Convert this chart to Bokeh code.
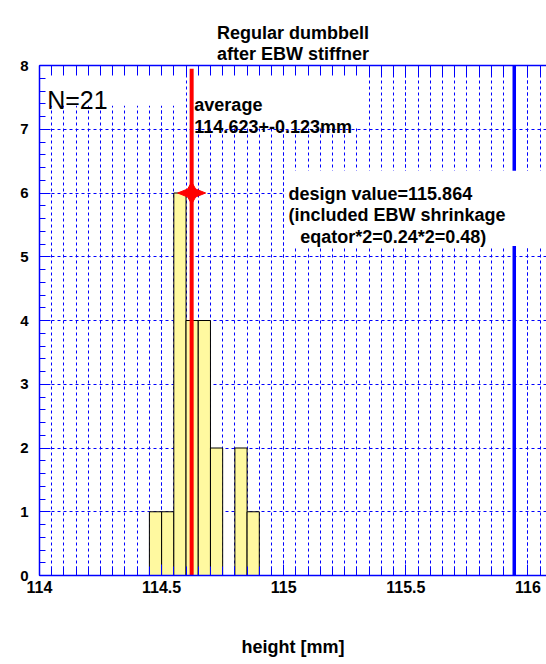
import numpy as np
from bokeh.plotting import figure
from bokeh.models import (LinearAxis, SingleIntervalTicker, FixedTicker, Range1d, Label, Grid,
                          NumeralTickFormatter)
from bokeh.embed import file_html
from bokeh.resources import INLINE

# ---------------- data ----------------
title_text = "Regular dumbbell\nafter EBW stiffner"
x_label = "height [mm]"
bin_edges = [114.45, 114.50, 114.55, 114.60, 114.65, 114.70, 114.75, 114.80, 114.85, 114.90]
counts = [1, 1, 6, 4, 4, 2, 0, 2, 1]
n_entries = 21
mean_value = 114.623
mean_error = 0.123
design_value = 115.864
design_line_x = 115.944
shrink_eq = 0.24
x_tick_interval = 0.5
x_minor_interval = 0.05
y_tick_interval = 1

# ---------------- style / layout ----------------
FONT = "Liberation Sans"
BLUE = "#0000ff"
X0, X1 = 114.0, 116.076
Y0, Y1 = 0.0, 8.0
PX_X = 244.2   # pixels per x unit
PX_Y = 63.75   # pixels per y unit

p = figure(width=546, height=664, x_range=Range1d(X0, X1), y_range=Range1d(Y0, Y1),
           output_backend="svg", toolbar_location=None,
           x_axis_type=None, y_axis_type=None,
           min_border_left=39, min_border_right=0, min_border_top=65, min_border_bottom=89)
p.outline_line_color = None
p.background_fill_color = "white"
p.border_fill_color = "white"

p.title.text = title_text
p.title.align = "center"
p.title.vertical_align = "top"
p.title.text_font = FONT
p.title.text_font_size = "18px"
p.title.text_font_style = "bold"
p.title.text_color = "black"
p.title.text_line_height = 1.06
p.title.standoff = 0

xt = SingleIntervalTicker(interval=x_tick_interval, num_minor_ticks=10)
yt = SingleIntervalTicker(interval=y_tick_interval, num_minor_ticks=5)

def style_ticks(ax, major_in, minor_in):
    ax.axis_line_color = BLUE
    ax.axis_line_width = 1.5
    ax.major_tick_line_color = BLUE
    ax.minor_tick_line_color = BLUE
    ax.major_tick_in = major_in
    ax.major_tick_out = 0
    ax.minor_tick_in = minor_in
    ax.minor_tick_out = 0

xaxis = LinearAxis(ticker=xt, formatter=NumeralTickFormatter(format="0.[0]"),
                   axis_label=x_label)
style_ticks(xaxis, 11, 9)
xaxis.major_label_standoff = 5
xaxis.major_label_text_font = FONT
xaxis.major_label_text_font_size = "16px"
xaxis.major_label_text_font_style = "bold"
xaxis.major_label_text_color = "black"
xaxis.axis_label_text_font = FONT
xaxis.axis_label_text_font_size = "18px"
xaxis.axis_label_text_font_style = "bold"
xaxis.axis_label_text_color = "black"
xaxis.axis_label_standoff = 41
p.add_layout(xaxis, "below")

# top frame edge: tick marks only (no labels)
top_minor = list(np.round(np.arange(X0, X1 + 1e-9, x_minor_interval), 3))
topaxis = LinearAxis(ticker=FixedTicker(ticks=[], minor_ticks=top_minor))
style_ticks(topaxis, 10, 10)
topaxis.axis_label_standoff = 0
topaxis.major_label_standoff = 0
p.add_layout(topaxis, "above")

yaxis = LinearAxis(ticker=yt, formatter=NumeralTickFormatter(format="0"))
style_ticks(yaxis, 11, 6)
yaxis.major_label_standoff = 11
yaxis.major_label_text_font = FONT
yaxis.major_label_text_font_size = "15px"
yaxis.major_label_text_font_style = "bold"
yaxis.major_label_text_color = "black"
p.add_layout(yaxis, "left")

p.add_layout(Grid(dimension=0, ticker=xt, grid_line_color=BLUE, grid_line_dash="3 3",
                  minor_grid_line_color=BLUE, minor_grid_line_dash="3 3"))
p.add_layout(Grid(dimension=1, ticker=yt, grid_line_color=BLUE, grid_line_dash="3 3"))

# histogram bars
lefts = [bin_edges[i] for i in range(len(counts)) if counts[i] > 0]
rights = [bin_edges[i + 1] for i in range(len(counts)) if counts[i] > 0]
tops = [c for c in counts if c > 0]
p.quad(left=lefts, right=rights, bottom=0, top=tops,
       fill_color="#fff9a0", line_color="black", line_width=1)

# design value line
p.segment(x0=[design_line_x], y0=[Y0], x1=[design_line_x], y1=[Y1],
          line_color=BLUE, line_width=3.5)

# white text boxes (hide grid)
p.quad(left=[X0 + 0.005, mean_value + 0.008, 115.006],
       right=[114.6, 115.34, X1],
       bottom=[7.37, 7.03, 5.17],
       top=[Y1 - 0.02, Y1 - 0.02, 6.35],
       fill_color="white", line_color=None)

# average line
p.segment(x0=[mean_value], y0=[Y0], x1=[mean_value], y1=[7.95],
          line_color="#ff0000", line_width=4)

# star at the peak
peak = max(counts)
rx, ry = 14 / PX_X, 11 / PX_Y
ix, iy = 4 / PX_X, 4 / PX_Y
m = mean_value
sxs = [m - rx, m - ix, m, m + ix, m + rx, m + ix, m, m - ix]
sys_ = [peak, peak + iy, peak + ry, peak + iy, peak, peak - iy, peak - ry, peak - iy]
p.patch(sxs, sys_, fill_color="#ff0000", line_color="#ff0000")

def lab(text, x, y, size="18px", style="bold"):
    p.add_layout(Label(x=x, y=y, text=text, text_font=FONT, text_font_size=size,
                       text_font_style=style, text_color="black",
                       text_baseline="alphabetic", text_align="left"))

lab(f"N={n_entries}", 114.0316, 7.46, size="25px", style="normal")
lab("average", mean_value + 0.011, 7.386)
lab(f"{mean_value:.3f}+-{mean_error:.3f}mm", mean_value + 0.011, 7.04)
lab(f"design value={design_value:.3f}", 115.0197, 5.984)
lab("(included EBW shrinkage", 115.0197, 5.659)
lab(f"eqator*2={shrink_eq:.2f}*2={shrink_eq*2:.2f})", 115.0675, 5.314)

open("out.html", "w").write(file_html(p, INLINE))
